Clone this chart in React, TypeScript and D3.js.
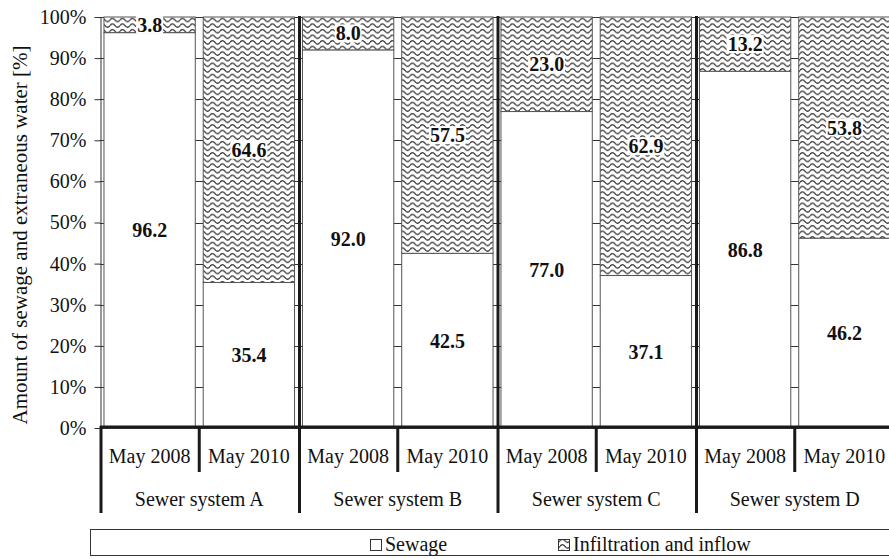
import React, { useEffect, useRef } from 'react';
import * as d3 from 'd3';

const systems = ['Sewer system A', 'Sewer system B', 'Sewer system C', 'Sewer system D'];
const periods = ['May 2008', 'May 2010'];
// one value per bar, in order A-2008, A-2010, B-2008, ...
const sewage = [96.2, 35.4, 92.0, 42.5, 77.0, 37.1, 86.8, 46.2];
const infiltration = [3.8, 64.6, 8.0, 57.5, 23.0, 62.9, 13.2, 53.8];
const yTicks = [0, 10, 20, 30, 40, 50, 60, 70, 80, 90, 100];
const seriesNames = ['Sewage', 'Infiltration and inflow'];

const FONT = "'Liberation Serif', 'DejaVu Serif', serif";

const App = () => {
  const svgRef = useRef<SVGSVGElement | null>(null);

  useEffect(() => {
    const width = 889;
    const marginTop = 17;
    const plotBottom = 428;
    const plotLeft = 100;
    const plotRight = 894;

    const svg = d3.select(svgRef.current);
    svg.selectAll('*').remove();

    const defs = svg.append('defs');
    const pat = defs.append('pattern')
      .attr('id', 'wave')
      .attr('patternUnits', 'userSpaceOnUse')
      .attr('width', 10)
      .attr('height', 5.6);
    pat.append('rect').attr('width', 10).attr('height', 5.6).attr('fill', '#fff');
    pat.append('path')
      .attr('d', 'M0,3.2 Q2.5,-0.2 5,3.2 T10,3.2')
      .attr('fill', 'none')
      .attr('stroke', '#333')
      .attr('stroke-width', 1.3);

    const x0 = d3.scaleBand()
      .domain(systems)
      .range([plotLeft, plotRight]);

    const x1 = d3.scaleBand()
      .domain(periods)
      .range([0, x0.bandwidth()])
      .paddingInner(0.08)
      .paddingOuter(0.04);

    const y = d3.scaleLinear()
      .domain([0, 100])
      .range([plotBottom, marginTop]);

    const bars = systems.flatMap((s, i) => periods.map((p, j) => ({
      system: s,
      period: p,
      sewage: sewage[i * 2 + j],
      infiltration: infiltration[i * 2 + j],
    })));

    // gridlines behind the bars
    svg.append('g')
      .selectAll('line')
      .data(yTicks)
      .join('line')
      .attr('x1', plotLeft)
      .attr('x2', plotRight)
      .attr('y1', d => Math.round(y(d)) + 0.5)
      .attr('y2', d => Math.round(y(d)) + 0.5)
      .attr('stroke', '#333')
      .attr('stroke-width', 1);

    const g = svg.append('g');
    const barX = d => (x0(d.system) as number) + (x1(d.period) as number);

    g.selectAll('rect.sew')
      .data(bars)
      .join('rect')
      .attr('class', 'sew')
      .attr('x', barX)
      .attr('width', x1.bandwidth())
      .attr('y', d => y(d.sewage))
      .attr('height', d => y(0) - y(d.sewage))
      .attr('fill', '#fff')
      .attr('stroke', '#555')
      .attr('stroke-width', 1);

    g.selectAll('rect.inf')
      .data(bars)
      .join('rect')
      .attr('class', 'inf')
      .attr('x', barX)
      .attr('width', x1.bandwidth())
      .attr('y', d => y(100))
      .attr('height', d => y(d.sewage) - y(100))
      .attr('fill', 'url(#wave)')
      .attr('stroke', '#555')
      .attr('stroke-width', 1);

    // value labels
    const addLabel = (cx, cy, txt) => {
      const lg = svg.append('g');
      const t = lg.append('text')
        .attr('x', cx)
        .attr('y', cy)
        .attr('text-anchor', 'middle')
        .attr('dominant-baseline', 'central')
        .style('font-family', FONT)
        .attr('font-weight', 'bold')
        .attr('font-size', 20)
        .attr('fill', '#111')
        .text(txt);
      const bb = (t.node() as SVGTextElement).getBBox();
      lg.insert('rect', 'text')
        .attr('x', bb.x - 1)
        .attr('y', bb.y + 2)
        .attr('width', bb.width + 2)
        .attr('height', bb.height - 4)
        .attr('fill', '#fff');
    };
    bars.forEach(d => {
      const cx = barX(d) + x1.bandwidth() / 2;
      addLabel(cx, y(d.sewage / 2), d.sewage.toFixed(1));
      addLabel(cx, y(d.sewage + d.infiltration / 2), d.infiltration.toFixed(1));
    });

    // y axis
    svg.append('g')
      .attr('transform', `translate(${plotLeft + 0.5},0)`)
      .call(d3.axisLeft(y).tickValues(yTicks).tickSize(6).tickSizeOuter(0).tickFormat(d => `${d}%`))
      .call(ax => ax.select('.domain').attr('stroke', '#333'))
      .call(ax => ax.selectAll('.tick line').attr('stroke', '#333'))
      .call(ax => ax.selectAll('.tick text')
        .style('font-family', FONT)
        .attr('font-size', 20)
        .attr('fill', '#111')
        .attr('x', -14));

    svg.append('text')
      .attr('transform', `translate(27,235) rotate(-90)`)
      .attr('text-anchor', 'middle')
      .style('font-family', FONT)
      .attr('font-size', 21)
      .attr('fill', '#111')
      .text('Amount of sewage and extraneous water [%]');

    // x axis, two levels
    svg.append('line')
      .attr('x1', plotLeft)
      .attr('x2', width)
      .attr('y1', plotBottom - 1)
      .attr('y2', plotBottom - 1)
      .attr('stroke', '#1a1a1a')
      .attr('stroke-width', 3);

    // group separators
    svg.append('g')
      .selectAll('line')
      .data(systems)
      .join('line')
      .attr('x1', d => (x0(d) as number) + 1)
      .attr('x2', d => (x0(d) as number) + 1)
      .attr('y1', (d, i) => (i === 0 ? plotBottom - 2 : marginTop - 1))
      .attr('y2', 513)
      .attr('stroke', '#1a1a1a')
      .attr('stroke-width', 3);

    // period separators
    svg.append('g')
      .selectAll('line')
      .data(systems)
      .join('line')
      .attr('x1', d => (x0(d) as number) + x0.bandwidth() / 2)
      .attr('x2', d => (x0(d) as number) + x0.bandwidth() / 2)
      .attr('y1', plotBottom - 2)
      .attr('y2', 472)
      .attr('stroke', '#1a1a1a')
      .attr('stroke-width', 3);

    svg.append('g')
      .selectAll('text')
      .data(bars)
      .join('text')
      .attr('x', d => (x0(d.system) as number) + (x1(d.period) as number) + x1.bandwidth() / 2)
      .attr('y', 463)
      .attr('text-anchor', 'middle')
      .style('font-family', FONT)
      .attr('font-size', 20)
      .attr('fill', '#111')
      .text(d => d.period);

    svg.append('g')
      .selectAll('text')
      .data(systems)
      .join('text')
      .attr('x', d => (x0(d) as number) + x0.bandwidth() / 2)
      .attr('y', 506)
      .attr('text-anchor', 'middle')
      .style('font-family', FONT)
      .attr('font-size', 20)
      .attr('fill', '#111')
      .text(d => d);

    // legend
    const leg = svg.append('g');
    leg.append('rect')
      .attr('x', 90.5)
      .attr('y', 529.5)
      .attr('width', 820)
      .attr('height', 26)
      .attr('fill', '#fff')
      .attr('stroke', '#333')
      .attr('stroke-width', 1);
    const legX = [370, 558];
    seriesNames.forEach((name, i) => {
      leg.append('rect')
        .attr('x', legX[i] + 0.5)
        .attr('y', 539.5)
        .attr('width', 11)
        .attr('height', 11)
        .attr('fill', i === 0 ? '#fff' : 'url(#wave)')
        .attr('stroke', '#333');
      leg.append('text')
        .attr('x', legX[i] + 15)
        .attr('y', 551)
        .style('font-family', FONT)
        .attr('font-size', 20)
        .attr('fill', '#111')
        .text(name);
    });
  }, []);

  return (
    <svg
      ref={svgRef}
      width={889}
      height={559}
      style={{ position: 'absolute', left: 0, top: 0, background: '#fff', overflow: 'hidden' }}
    />
  );
};

export default App;
